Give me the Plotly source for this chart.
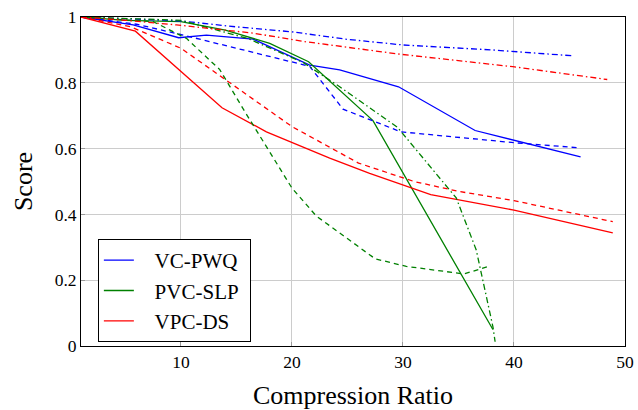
import plotly.graph_objects as go

# VC-PWQ (blue)
vc_solid_x = [1, 5.7, 9.8, 12.3, 16.5, 21.6, 24.3, 29.6, 36.5, 46]
vc_solid_y = [1.0, 0.976, 0.937, 0.945, 0.933, 0.854, 0.839, 0.788, 0.655, 0.575]
vc_dash_x = [1, 6, 10.2, 21.6, 24.6, 29.8, 40, 46]
vc_dash_y = [1.0, 0.978, 0.945, 0.85, 0.72, 0.651, 0.618, 0.602]
vc_dd_x = [1, 10, 15, 20, 25, 30, 38, 45.3]
vc_dd_y = [1.0, 0.988, 0.97, 0.955, 0.932, 0.915, 0.9, 0.882]

# PVC-SLP (green)
pvc_solid_x = [1, 5, 10, 14, 18, 21.5, 27.3, 38.1]
pvc_solid_y = [1.0, 0.99, 0.986, 0.96, 0.92, 0.864, 0.685, 0.05]
pvc_dash_x = [1, 7.5, 10.5, 13.5, 15.8, 20, 22.2, 27.5, 30.3, 35.5, 37.7]
pvc_dash_y = [1.0, 0.986, 0.935, 0.84, 0.71, 0.48, 0.395, 0.265, 0.242, 0.219, 0.242]
pvc_dd_x = [1, 10, 16, 21, 24.3, 29.5, 34.8, 36.6, 38.1, 38.3]
pvc_dd_y = [1.0, 0.99, 0.935, 0.862, 0.788, 0.665, 0.45, 0.292, 0.059, 0.013]

# VPC-DS (red)
vpc_solid_x = [1, 5.9, 13.7, 17.7, 23.4, 27, 32.5, 40, 48.9]
vpc_solid_y = [1.0, 0.957, 0.724, 0.651, 0.571, 0.525, 0.46, 0.413, 0.344]
vpc_dash_x = [1, 5.5, 10, 14, 20, 26, 31, 35, 40, 48.9]
vpc_dash_y = [1.0, 0.97, 0.905, 0.81, 0.667, 0.556, 0.5, 0.47, 0.442, 0.378]
vpc_dd_x = [1, 5, 9.6, 16.5, 21.2, 29.7, 39.9, 48.4]
vpc_dd_y = [1.0, 0.99, 0.976, 0.951, 0.925, 0.887, 0.849, 0.81]

x_ticks = [10, 20, 30, 40, 50]
y_ticks = [0, 0.2, 0.4, 0.6, 0.8, 1]
y_tick_labels = ["0", "0.2", "0.4", "0.6", "0.8", "1"]

BLUE, GREEN, RED = "#0000ff", "#008000", "#ff0000"
DASH = "5px,4px"
DASHDOT = "6px,3px,1.5px,3px"
LW = 1.3
PAD = "\u00a0\u00a0\u00a0"

fig = go.Figure()

def add(x, y, color, dash, name=None):
    fig.add_trace(go.Scatter(
        x=x, y=y, mode="lines",
        line=dict(color=color, width=LW, dash=dash),
        name=(PAD + name + "\u00a0") if name else "",
        showlegend=name is not None,
    ))

add(vc_solid_x, vc_solid_y, BLUE, "solid", "VC-PWQ")
add(pvc_solid_x, pvc_solid_y, GREEN, "solid", "PVC-SLP")
add(vpc_solid_x, vpc_solid_y, RED, "solid", "VPC-DS")
add(vc_dash_x, vc_dash_y, BLUE, DASH)
add(vc_dd_x, vc_dd_y, BLUE, DASHDOT)
add(pvc_dash_x, pvc_dash_y, GREEN, DASH)
add(pvc_dd_x, pvc_dd_y, GREEN, DASHDOT)
add(vpc_dash_x, vpc_dash_y, RED, DASH)
add(vpc_dd_x, vpc_dd_y, RED, DASHDOT)

FONT = "Liberation Serif, Times New Roman, serif"

fig.update_layout(
    width=638, height=410,
    margin=dict(l=81, r=13, t=17, b=64, autoexpand=False),
    paper_bgcolor="white", plot_bgcolor="white",
    font=dict(family=FONT, size=17, color="black"),
    legend=dict(
        x=0.031, y=0.325, xanchor="left", yanchor="top",
        bordercolor="black", borderwidth=1, bgcolor="white",
        font=dict(family=FONT, size=21),
        tracegroupgap=0,
    ),
    xaxis=dict(
        range=[1, 50], tickvals=x_ticks,
        showgrid=True, gridcolor="#cccccc", gridwidth=1,
        showline=True, linecolor="black", linewidth=1, mirror=True,
        ticks="inside", ticklen=4, tickcolor="#999999",
        zeroline=False, automargin=False,
        title=dict(text="Compression Ratio", font=dict(family=FONT, size=26), standoff=16),
        tickfont=dict(family=FONT, size=17.5),
    ),
    yaxis=dict(
        range=[0, 1], tickvals=y_ticks, ticktext=y_tick_labels,
        showgrid=True, gridcolor="#cccccc", gridwidth=1,
        showline=True, linecolor="black", linewidth=1, mirror=True,
        ticks="inside", ticklen=4, tickcolor="#999999",
        zeroline=False, automargin=False,
        title=dict(text="Score", font=dict(family=FONT, size=26), standoff=14),
        tickfont=dict(family=FONT, size=17.5),
    ),
)

fig.write_html("out.html", config={"displayModeBar": False},
               post_script="document.body.style.margin='0';")
